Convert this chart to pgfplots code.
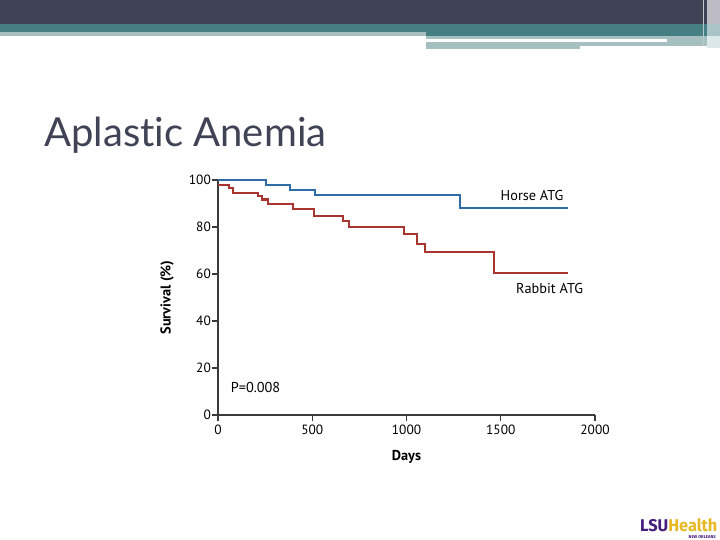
\documentclass[border=0pt]{standalone}
\usepackage{fontspec}
\setmainfont{PT Sans}
\newfontfamily\titlefont[Ligatures={NoCommon,NoDiscretionary,NoRare}]{Lato}
\newfontfamily\logofont{Fira Sans}
\usepackage{pgfplots}
\pgfplotsset{compat=1.18}
\definecolor{hdark}{HTML}{404356}
\definecolor{hteal}{HTML}{467F83}
\definecolor{hlight}{HTML}{A6BFC1}
\definecolor{hgray}{HTML}{BDBCC4}
\definecolor{hteallt}{HTML}{A9C4C6}
\definecolor{hpale}{HTML}{DCE8E9}
\definecolor{horse}{HTML}{2D6CA5}
\definecolor{rabbit}{HTML}{A8352F}
\definecolor{axgray}{HTML}{3A3A3A}
\definecolor{lsupurple}{HTML}{461D7C}
\definecolor{lsugold}{HTML}{E8B824}
\begin{document}
\begin{tikzpicture}[x=1bp,y=1bp]
\useasboundingbox (0,0) rectangle (720,540);
\fill[white] (0,0) rectangle (720,540);
% header (y = 540 - pixel row)
\fill[hdark] (0,540) rectangle (720,516);
\fill[hteal] (0,516) rectangle (426,508);
\fill[hteal] (426,516) rectangle (720,504);
\fill[hlight] (0,508) rectangle (426,504);
\fill[hlight] (426,504) rectangle (707,501);
\fill[hlight] (667,501) rectangle (707,494.3);
\fill[hlight] (426,498.3) rectangle (580,491);
\fill[hlight] (580,498.3) rectangle (707,494.3);
\fill[hgray] (707,540) rectangle (720,516);
\fill[hteallt] (707,516) rectangle (720,504);
\fill[hpale] (707,504) rectangle (720,492);
\draw[white!70!hdark, line width=1bp] (703,540) -- (703,516);
\draw[white!60!hteal, line width=1bp] (703,516) -- (703,494);
% title
\node[anchor=base west, inner sep=0pt, text=hdark, font=\titlefont\fontsize{40bp}{48bp}\selectfont] at (44,393) {Aplastic Anemia};
% logo
\node[anchor=base west, inner sep=0pt, font=\logofont\bfseries\fontsize{17bp}{20bp}\selectfont, xscale=0.96] at (640,8.5) {\textcolor{lsupurple}{LSU}\textcolor{lsugold}{Health}};
\node[anchor=base east, inner sep=0pt, font=\logofont\bfseries\fontsize{4.2bp}{5bp}\selectfont, text=lsupurple] at (716,1.5) {NEW ORLEANS};
% chart
\begin{axis}[
  at={(218bp,125bp)}, anchor=south west,
  scale only axis, width=377bp, height=235bp,
  xmin=0, xmax=2000, ymin=0, ymax=100,
  axis lines=left,
  axis line style={-, draw=axgray, line width=1.5bp},
  xtick={0,500,1000,1500,2000},
  ytick={0,20,40,60,80,100},
  tick align=outside,
  major tick length=6bp,
  tick style={draw=axgray, line width=1.2bp},
  /pgf/number format/assume math mode=true,
  /pgf/number format/1000 sep={},
  ticklabel style={font=\fontsize{13.4bp}{15bp}\selectfont, text=black},
  yticklabel style={inner sep=1bp},
  xticklabel style={inner sep=2bp, yshift=-1.5bp},
  xlabel={\bfseries Days},
  ylabel={\bfseries Survival (\%)},
  label style={font=\fontsize{14.3bp}{17bp}\selectfont},
  xlabel style={at={(axis description cs:0.5,-0.179)}, anchor=center},
  ylabel style={at={(axis description cs:-0.135,0.5)}, anchor=center},
  clip=false,
]
\addplot[const plot, draw=horse, line width=2.1bp] coordinates {
  (0,100) (255,97.9) (382,95.7) (515,93.5) (1284,88.0) (1855,88.0)
};
\addplot[const plot, draw=rabbit, line width=2.1bp] coordinates {
  (0,97.9) (60,96.5) (78,94.6) (210,93.2) (235,91.7) (265,89.6) (396,87.8)
  (511,84.8) (665,82.6) (695,80.1) (988,76.9) (1057,72.8) (1100,69.2)
  (1466,60.6) (1855,60.6)
};
\node[font=\fontsize{14.3bp}{17bp}\selectfont] at (axis cs:1666,93.2) {Horse ATG};
\node[font=\fontsize{14.3bp}{17bp}\selectfont] at (axis cs:1759,54) {Rabbit ATG};
\node[font=\fontsize{14.3bp}{17bp}\selectfont] at (axis cs:199,11.9) {P=0.008};
\end{axis}
\end{tikzpicture}
\end{document}
